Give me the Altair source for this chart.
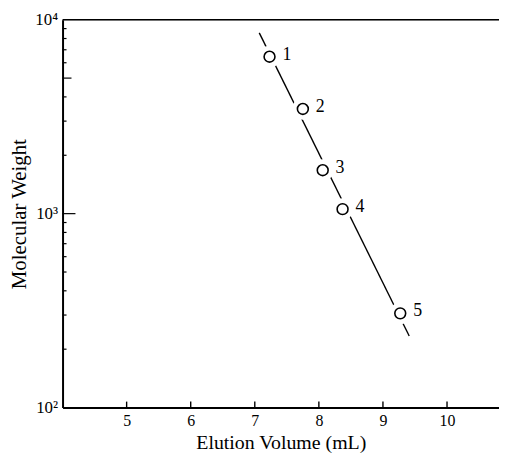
import altair as alt
import pandas as pd

# data
pt_x = [7.23, 7.75, 8.06, 8.37, 9.27]
pt_y = [6445, 3467, 1675, 1055, 306]
pt_lab = ["1", "2", "3", "4", "5"]
fit_x = [7.07, 9.41]
fit_y = [8550, 234]
x_ticks = [5, 6, 7, 8, 9, 10]
y_labels = [100, 1000, 10000]
y_minor = [200, 300, 400, 500, 600, 700, 800, 900, 2000, 3000, 4000, 6000, 7000, 8000, 9000]
y_mid = [5000]
y_major = [1000]

W, H = 440, 391
FONT = "Liberation Serif"

pts = pd.DataFrame({"x": pt_x, "y": pt_y, "lab": pt_lab})
fit = pd.DataFrame({"x": fit_x, "y": fit_y})

xs = alt.Scale(domain=[4, 4 + W / 64.6], nice=False, zero=False)
ys = alt.Scale(type="log", domain=[100, 10000], nice=False)

x_axis = alt.Axis(values=x_ticks, format="d", ticks=False, tickSize=0, grid=False,
                  domainColor="black", domainWidth=2, labelFont=FONT, labelFontSize=16,
                  labelColor="black", labelPadding=5, title="Elution Volume (mL)",
                  titleFont=FONT, titleFontSize=20, titleFontWeight="normal",
                  titleColor="black", titleX=W / 2, titleY=41, titleBaseline="alphabetic")
y_axis = alt.Axis(values=y_labels, ticks=False, tickSize=0, grid=False, domainColor="black",
                  domainWidth=2, labelFont=FONT, labelFontSize=17, labelColor="black",
                  labelPadding=5,
                  labelExpr="datum.value == 100 ? '10²' : (datum.value == 1000 ? '10³' : '10⁴')",
                  title="Molecular Weight", titleFont=FONT, titleFontSize=21,
                  titleFontWeight="normal", titleColor="black", titleX=-43, titleY=H / 2,
                  titleBaseline="middle", titleAngle=-90)

base = alt.Chart(pts)

line = alt.Chart(fit).mark_line(color="black", strokeWidth=1.4).encode(
    x=alt.X("x:Q", scale=xs, axis=x_axis),
    y=alt.Y("y:Q", scale=ys, axis=y_axis),
)
mask = base.mark_point(shape="circle", filled=True, fill="white", stroke="white",
                       strokeWidth=0, opacity=1, size=480).encode(
    x=alt.X("x:Q", scale=xs), y=alt.Y("y:Q", scale=ys))
circles = base.mark_point(shape="circle", fill="white", filled=False, stroke="black",
                          strokeWidth=1.6, opacity=1, size=120).encode(
    x=alt.X("x:Q", scale=xs), y=alt.Y("y:Q", scale=ys))
labels = base.mark_text(align="left", baseline="middle", dx=13, dy=-2, font=FONT,
                        fontSize=18, color="black").encode(
    x=alt.X("x:Q", scale=xs), y=alt.Y("y:Q", scale=ys), text="lab:N")

def yticks(vals, length):
    return alt.Chart(pd.DataFrame({"v": vals})).mark_rule(color="black", strokeWidth=1.2).encode(
        y=alt.Y("v:Q", scale=ys), x=alt.value(0), x2=alt.value(length))

xt = alt.Chart(pd.DataFrame({"v": x_ticks})).mark_rule(color="black", strokeWidth=1.4).encode(
    x=alt.X("v:Q", scale=xs), y=alt.value(H), y2=alt.value(H - 6))

top = alt.Chart(pd.DataFrame({"v": [0]})).mark_rule(color="black", strokeWidth=1.5).encode(
    x=alt.value(0), x2=alt.value(W), y=alt.value(0))

chart = alt.layer(
    line, mask, circles, labels,
    yticks(y_minor, 4), yticks(y_mid, 9), yticks(y_major, 13), xt, top,
).properties(
    width=W, height=H,
    autosize=alt.AutoSizeParams(type="none"),
    padding={"left": 55, "top": 10, "right": 0, "bottom": 46},
).configure_view(stroke=None).configure(background="white")

chart.save("out.html", embed_options={"renderer": "svg", "actions": False})
